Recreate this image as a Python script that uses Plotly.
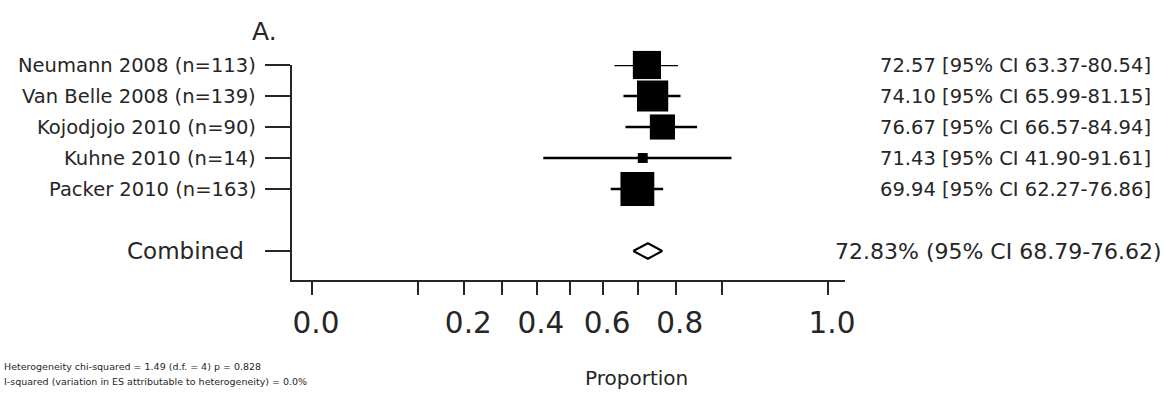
import numpy as np
import plotly.graph_objects as go

# Study-level proportions (%) with 95% confidence intervals
studies = [
    "Neumann 2008 (n=113)",
    "Van Belle 2008 (n=139)",
    "Kojodjojo 2010 (n=90)",
    "Kuhne 2010 (n=14)",
    "Packer 2010 (n=163)",
]
sample_sizes = [113, 139, 90, 14, 163]
estimates = [72.57, 74.10, 76.67, 71.43, 69.94]
ci_lower = [63.37, 65.99, 66.57, 41.90, 62.27]
ci_upper = [80.54, 81.15, 84.94, 91.61, 76.86]

# Pooled estimate
pooled_label = "Combined"
pooled_estimate = 72.83
pooled_lower = 68.79
pooled_upper = 76.62

# Axis ticks (proportion scale)
tick_props = [0.0, 0.1, 0.2, 0.3, 0.4, 0.5, 0.6, 0.7, 0.8, 0.9, 1.0]
tick_labels = ["0.0", "", "0.2", "", "0.4", "", "0.6", "", "0.8", "", "1.0"]

heterogeneity_lines = [
    "Heterogeneity chi-squared = 1.49 (d.f. = 4) p = 0.828",
    "I-squared (variation in ES attributable to heterogeneity) = 0.0%",
]

# ---------------------------------------------------------------------------
W, H = 1165, 397
ML, MR, MT, MB = 292, 320, 65, 117
PW, PH = W - ML - MR, H - MT - MB

INK = "#262626"
FONT = "DejaVu Sans"


def arcsine(p):
    """Variance-stabilising arcsine square-root transform of a proportion."""
    return np.arcsin(np.sqrt(np.asarray(p, dtype=float)))


def px_x(px):
    return (px - ML) / PW


def px_y(py):
    return (H - MB - py) / PH


est_t = arcsine(np.array(estimates) / 100)
lo_t = arcsine(np.array(ci_lower) / 100)
hi_t = arcsine(np.array(ci_upper) / 100)
rows = list(range(len(studies)))
pooled_row = len(studies) + 1

p_est = float(arcsine(pooled_estimate / 100))
p_lo = float(arcsine(pooled_lower / 100))
p_hi = float(arcsine(pooled_upper / 100))

marker_sizes = 2.65 * np.sqrt(sample_sizes)

fig = go.Figure()

# Confidence-interval whiskers (drawn first so the squares sit on top)
fig.add_trace(go.Scatter(
    x=est_t, y=rows, mode="markers",
    marker=dict(size=1, color="rgba(0,0,0,0)"),
    error_x=dict(type="data", symmetric=False, array=hi_t - est_t, arrayminus=est_t - lo_t,
                 color="black", thickness=2.5, width=0),
    cliponaxis=False, showlegend=False, hoverinfo="skip",
))

# Study estimates: squares sized by study size
fig.add_trace(go.Scatter(
    x=est_t, y=rows, mode="markers",
    marker=dict(symbol="square", size=marker_sizes, color="black", opacity=1,
                line=dict(width=0)),
    cliponaxis=False, showlegend=False, hoverinfo="skip",
))

# Pooled estimate: open diamond spanning the pooled CI
dh = 0.25
fig.add_trace(go.Scatter(
    x=[p_lo, p_est, p_hi, p_est, p_lo],
    y=[pooled_row, pooled_row - dh, pooled_row, pooled_row + dh, pooled_row],
    mode="lines", fill="toself", fillcolor="white",
    line=dict(color="black", width=2), cliponaxis=False,
    showlegend=False, hoverinfo="skip",
))

annotations = []
for r, name, e, lo, hi in zip(rows, studies, estimates, ci_lower, ci_upper):
    annotations.append(dict(
        x=px_x(258), xref="paper", y=r, yref="y", text=name, showarrow=False,
        xanchor="right", yanchor="middle", font=dict(size=19.5, color=INK, family=FONT),
    ))
    annotations.append(dict(
        x=px_x(878), xref="paper", y=r, yref="y",
        text=f"{e:.2f} [95% CI {lo:.2f}-{hi:.2f}]", showarrow=False,
        xanchor="left", yanchor="middle", font=dict(size=19.5, color=INK, family=FONT),
    ))

annotations.append(dict(
    x=px_x(246), xref="paper", y=pooled_row, yref="y", text=pooled_label, showarrow=False,
    xanchor="right", yanchor="middle", font=dict(size=23, color=INK, family=FONT),
))
annotations.append(dict(
    x=px_x(833), xref="paper", y=pooled_row, yref="y",
    text=f"{pooled_estimate:.2f}% (95% CI {pooled_lower:.2f}-{pooled_upper:.2f})",
    showarrow=False, xanchor="left", yanchor="middle",
    font=dict(size=22, color=INK, family=FONT),
))

# Panel letter
annotations.append(dict(
    x=px_x(250), xref="paper", y=px_y(31), yref="paper", text="A.", showarrow=False,
    xanchor="left", yanchor="middle", font=dict(size=25, color=INK, family=FONT),
))

# Axis title
annotations.append(dict(
    x=px_x(636), xref="paper", y=px_y(378), yref="paper", text="Proportion", showarrow=False,
    xanchor="center", yanchor="middle", font=dict(size=20, color=INK, family=FONT),
))

# Heterogeneity statistics (left-aligned block in the bottom-left corner)
for text, y_mid in zip(heterogeneity_lines, [366, 381]):
    annotations.append(dict(
        x=px_x(2), xref="paper", y=px_y(y_mid), yref="paper", text=text, showarrow=False,
        xanchor="left", yanchor="middle", font=dict(size=9.5, color=INK, family=FONT),
    ))

fig.update_layout(
    width=W, height=H,
    margin=dict(l=ML, r=MR, t=MT, b=MB, pad=0),
    paper_bgcolor="white", plot_bgcolor="white",
    showlegend=False,
    annotations=annotations,
    xaxis=dict(
        range=[-20 / 328.5, 533 / 328.5],
        tickmode="array", tickvals=arcsine(tick_props), ticktext=tick_labels,
        ticks="outside", ticklen=13, tickwidth=2, tickcolor=INK,
        showline=True, linecolor=INK, linewidth=2,
        showgrid=False, zeroline=False,
        tickfont=dict(size=29.5, color=INK, family=FONT),
        ticklabelstandoff=3, ticklabelshift=4,
    ),
    yaxis=dict(
        range=[(280 - 65) / 31.0, 0],
        tickmode="array", tickvals=rows + [pooled_row], ticktext=[""] * (len(rows) + 1),
        ticks="outside", ticklen=25, tickwidth=2, tickcolor=INK,
        showline=True, linecolor=INK, linewidth=2,
        showgrid=False, zeroline=False, showticklabels=False,
    ),
)

fig.write_html("out.html")
